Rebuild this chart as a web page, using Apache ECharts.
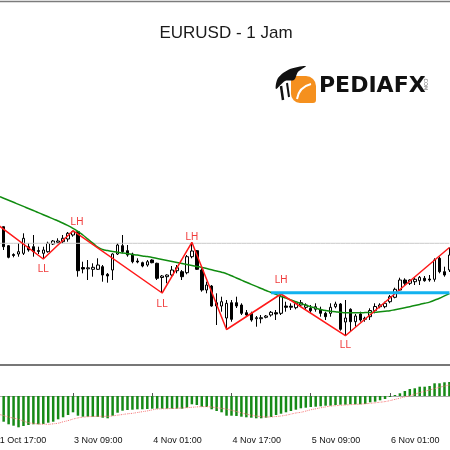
<!DOCTYPE html>
<html>
<head>
<meta charset="utf-8">
<script src="https://cdn.jsdelivr.net/npm/echarts@6/dist/echarts.min.js"></script>
<style>
  html, body { margin: 0; padding: 0; background: #fff; }
  #chart { width: 450px; height: 450px; }
</style>
</head>
<body>
<div id="chart"></div>
<script>
// EURUSD H1 candles (index 0 = 31 Oct 17:00)
const opens = [1.1569,1.1574,1.15733,1.15543,1.15455,1.1546,1.15467,1.15533,1.15533,1.15485,1.15467,1.15483,1.1556,1.15577,1.15583,1.1561,1.1565,1.15683,1.15325,1.15312,1.15307,1.15307,1.15333,1.15257,1.153,1.1546,1.15543,1.15493,1.1546,1.1539,1.15373,1.1535,1.154,1.15367,1.15225,1.15233,1.1525,1.15293,1.15283,1.15273,1.15433,1.15493,1.153,1.151,1.1514,1.1494,1.1494,1.1482,1.14973,1.14973,1.1495,1.14873,1.14867,1.14813,1.14813,1.14827,1.1485,1.14873,1.14867,1.1494,1.14938,1.14923,1.1495,1.14927,1.14917,1.14907,1.14907,1.14867,1.14867,1.14933,1.1496,1.1478,1.14907,1.14783,1.1486,1.14807,1.14833,1.14895,1.14933,1.14933,1.14983,1.15027,1.151,1.152,1.15167,1.15183,1.15193,1.15217,1.1521,1.15207,1.15417,1.15283,1.153];
const closes = [1.1573,1.1571,1.15533,1.15427,1.15445,1.15483,1.15617,1.155,1.15483,1.15495,1.155,1.15567,1.1559,1.1559,1.15617,1.15667,1.15683,1.15293,1.1531,1.15322,1.15327,1.1535,1.1525,1.1524,1.1546,1.1555,1.15483,1.1545,1.15383,1.1538,1.1534,1.15383,1.15373,1.15217,1.1524,1.1525,1.153,1.15323,1.15233,1.15433,1.1549,1.15307,1.151,1.1515,1.1494,1.14973,1.14983,1.14967,1.14807,1.1494,1.14867,1.1485,1.148,1.14823,1.14823,1.1484,1.14877,1.1486,1.15033,1.14927,1.14928,1.14967,1.14973,1.1495,1.14893,1.14933,1.14867,1.14833,1.14927,1.1496,1.14707,1.1482,1.14783,1.1484,1.148,1.14817,1.14895,1.14935,1.1495,1.14967,1.15033,1.15107,1.152,1.15167,1.152,1.15207,1.15227,1.15193,1.152,1.154,1.15283,1.1525,1.1545];
const lows = [1.1568,1.1569,1.155,1.15417,1.15427,1.15433,1.1545,1.15483,1.15433,1.1546,1.1541,1.15473,1.1555,1.15567,1.15567,1.15583,1.15633,1.15233,1.15267,1.152,1.15233,1.153,1.15183,1.15173,1.152,1.1545,1.15467,1.15433,1.15367,1.15367,1.15327,1.15333,1.15367,1.152,1.1507,1.15167,1.15233,1.15267,1.152,1.15257,1.15417,1.153,1.15083,1.15067,1.14933,1.1475,1.14883,1.14705,1.14783,1.1492,1.1485,1.14833,1.14783,1.14733,1.14767,1.14817,1.14833,1.148,1.1485,1.14883,1.149,1.14907,1.14933,1.149,1.14867,1.14883,1.14833,1.148,1.14833,1.14917,1.14693,1.14643,1.14683,1.14733,1.14783,1.14783,1.148,1.14867,1.14917,1.14917,1.14967,1.15017,1.15095,1.1515,1.1515,1.1515,1.1515,1.15183,1.15183,1.15183,1.15267,1.15233,1.1528];
const highs = [1.1574,1.15745,1.15735,1.1555,1.15467,1.15567,1.15667,1.15567,1.1565,1.15533,1.15533,1.15583,1.156,1.15617,1.1565,1.1568,1.15693,1.1569,1.15383,1.154,1.15367,1.15417,1.1535,1.1527,1.15467,1.15567,1.1565,1.1555,1.15473,1.15417,1.15383,1.154,1.15407,1.15373,1.1525,1.15257,1.1534,1.1535,1.153,1.1545,1.15577,1.155,1.15317,1.15183,1.1515,1.15067,1.15033,1.15,1.15,1.15033,1.14967,1.149,1.14883,1.1484,1.1485,1.1485,1.1489,1.149,1.1506,1.14983,1.14967,1.14983,1.15,1.14967,1.1495,1.14967,1.14933,1.14883,1.14967,1.14983,1.1497,1.15,1.14917,1.1486,1.14883,1.14833,1.14917,1.14967,1.14967,1.14983,1.1505,1.15123,1.15223,1.15217,1.15207,1.15227,1.1524,1.1524,1.1525,1.15417,1.15433,1.15333,1.15525];

// green moving average
const maLine = [1.16060,1.16038,1.16018,1.15997,1.15977,1.15956,1.15936,1.15915,1.15895,1.15874,1.15853,1.15832,1.15811,1.15790,1.15768,1.15743,1.15716,1.15687,1.15650,1.15608,1.15568,1.15528,1.15505,1.15495,1.15485,1.15477,1.15470,1.15463,1.15456,1.15449,1.15441,1.15434,1.15426,1.15416,1.15406,1.15396,1.15386,1.15376,1.15366,1.15356,1.15346,1.15336,1.15326,1.15314,1.15302,1.15290,1.15278,1.15263,1.15242,1.15220,1.15199,1.15177,1.15156,1.15136,1.15115,1.15095,1.15075,1.15056,1.15037,1.15019,1.15000,1.14982,1.14964,1.14948,1.14933,1.14919,1.14905,1.14894,1.14888,1.14883,1.14877,1.14873,1.14873,1.14873,1.14873,1.14874,1.14875,1.14878,1.14883,1.14888,1.14893,1.14903,1.14913,1.14923,1.14933,1.14944,1.14956,1.14967,1.14979,1.14998,1.15018,1.15041,1.15064];

// zigzag swing points
const zzIndex = [1, 10, 16, 34, 40, 47, 58, 71, 92];
const zzPrice = [1.15745, 1.1541, 1.15693, 1.1507, 1.15577, 1.14705, 1.1506, 1.14643, 1.15525];
const zzText = ['', 'LL', 'LH', 'LL', 'LH', '', 'LH', 'LL', ''];

const refLevel = 1.15567;      // grey horizontal line
const blueLevel = 1.15073;     // blue horizontal line
const blueFrom = 56;

// MACD (in points, 1 = 0.00001)
const macdHist = [-22,-24,-25.7,-28.3,-29.7,-31.3,-30,-29,-28.3,-28.3,-28,-26.7,-25.7,-23.3,-21.3,-19,-16.3,-19.7,-20.7,-20.7,-20.7,-21,-21.7,-22.3,-19.7,-16.7,-14.7,-14,-13.7,-13.3,-13.3,-13,-12.7,-12.7,-12.7,-12.7,-12.7,-12.7,-12.7,-11.7,-8.3,-9,-10.7,-11,-13.3,-15,-16.3,-19.7,-19.7,-20,-20.7,-21.3,-21.7,-22.3,-22.3,-21.7,-21,-19,-17.7,-16.3,-15,-13.7,-12.3,-11.7,-11,-10.7,-10.3,-9.7,-9.7,-9,-8.7,-8.7,-8.3,-8.3,-8.3,-8,-6.3,-5.7,-4.3,-3,-1,1,2.7,5,7,7.7,9.3,9.3,10,12.7,12.7,13.7,14];
const macdSignal = [-17,-18.3,-19.6,-21,-22.1,-23.3,-25,-26.7,-27.4,-28,-28.2,-28.3,-27.8,-27.2,-25.8,-24.6,-23.1,-21.9,-21.2,-20.7,-20.5,-20.3,-20.3,-20.3,-19.9,-19.2,-18.5,-17.8,-17.3,-16.5,-15.7,-14.9,-13.9,-13,-12.8,-12.7,-12.5,-12.3,-12,-11.7,-11.3,-10.9,-10.7,-10.7,-11.1,-11.7,-12.4,-13.1,-14.3,-15.5,-16.9,-18.1,-19.2,-20.1,-20.6,-21,-20.9,-20.5,-20,-19.2,-18.1,-17,-16.3,-15.1,-13.8,-12.8,-11.8,-10.9,-10.1,-9.7,-9.3,-9,-8.7,-8.4,-8.1,-7.8,-7.3,-6.8,-6.2,-5.6,-4.6,-3.4,-2.2,-0.8,0.2,1.8,3.3,4.7,6,7.4,8.7,9.9,11];

// hourly bar times, weekend skipped
const pad = n => (n < 10 ? '0' : '') + n;
const times = [];
for (let h = 17; h <= 23; h++) times.push('31 Oct ' + pad(h) + ':00');
for (let i = 0; times.length < opens.length; i++) {
  times.push((3 + Math.floor(i / 24)) + ' Nov ' + pad(i % 24) + ':00');
}

const chart = echarts.init(document.getElementById('chart'));

const candles = opens.map((o, i) => [o, closes[i], lows[i], highs[i]]);

// label gaps for zigzag texts
const zzGap = { 10: 5, 16: 3, 34: 6, 40: 0, 58: 8, 71: 4 };
const zzData = times.map(() => null);
zzIndex.forEach((idx, k) => {
  const item = { value: zzPrice[k] };
  if (zzText[k]) {
    item.label = {
      show: true,
      formatter: zzText[k],
      position: zzText[k] === 'LH' ? 'top' : 'bottom',
      distance: zzGap[idx],
      offset: idx === 16 ? [4, 0] : [0, 0],
      color: '#f03a3a',
      fontSize: 10,
      fontFamily: 'Liberation Sans'
    };
  }
  zzData[idx] = item;
});

const blueData = times.map((t, i) => (i >= blueFrom ? blueLevel : null));
const refData = times.map(() => refLevel);

const barStep = 4.953;
const gridLeft = -6.25 - barStep / 2;
const gridWidth = barStep * opens.length;

const option = {
  animation: false,
  backgroundColor: '#fff',
  grid: [
    { left: gridLeft, top: 2, width: gridWidth, height: 362, outerBoundsMode: 'none', containLabel: false },
    { left: gridLeft, top: 366, width: gridWidth, height: 67, outerBoundsMode: 'none', containLabel: false }
  ],
  xAxis: [
    {
      type: 'category', gridIndex: 0, data: times, boundaryGap: true,
      axisLine: { show: false }, axisTick: { show: false }, axisLabel: { show: false }
    },
    {
      type: 'category', gridIndex: 1, data: times, boundaryGap: true,
      axisLine: { show: true, lineStyle: { color: '#a8a8a8', width: 1 } },
      axisTick: { show: true, interval: 15, alignWithLabel: true, inside: true, length: 3, lineStyle: { color: '#555' } },
      axisLabel: {
        interval: 15, align: 'left', margin: 3, fontSize: 9,
        fontFamily: 'Liberation Sans', color: '#111', padding: [0, 0, 0, 1]
      }
    }
  ],
  yAxis: [
    { type: 'value', gridIndex: 0, min: 1.1436, max: 1.1798, show: false, splitLine: { show: false } },
    { type: 'value', gridIndex: 1, min: -37, max: 30, show: false, splitLine: { show: false } }
  ],
  series: [
    {
      name: 'Ref', type: 'line', xAxisIndex: 0, yAxisIndex: 0, data: refData,
      showSymbol: false, silent: true, lineStyle: { color: '#cacaca', width: 1 }
    },
    {
      name: 'EURUSD', type: 'candlestick', xAxisIndex: 0, yAxisIndex: 0,
      data: candles, barWidth: 3,
      itemStyle: {
        color: '#fff', color0: '#000',
        borderColor: '#000', borderColor0: '#000', borderColorDoji: '#000', borderWidth: 1
      }
    },
    {
      name: 'MA', type: 'line', xAxisIndex: 0, yAxisIndex: 0, data: maLine,
      showSymbol: false, smooth: true, lineStyle: { color: '#108c10', width: 1.5 }
    },
    {
      name: 'ZigZag', type: 'line', xAxisIndex: 0, yAxisIndex: 0, data: zzData,
      connectNulls: true, showSymbol: true, showAllSymbol: true,
      symbol: 'circle', symbolSize: 1, itemStyle: { color: 'transparent' },
      lineStyle: { color: '#ff1a1a', width: 1.5 }
    },
    {
      name: 'Level', type: 'line', xAxisIndex: 0, yAxisIndex: 0, data: blueData,
      showSymbol: false, lineStyle: { color: '#12b2ef', width: 3 }
    },
    {
      name: 'MACD', type: 'bar', xAxisIndex: 1, yAxisIndex: 1, data: macdHist,
      barWidth: 2.5, itemStyle: { color: '#168a16' }
    },
    {
      name: 'Signal', type: 'line', xAxisIndex: 1, yAxisIndex: 1, data: macdSignal,
      showSymbol: false, smooth: true,
      lineStyle: { color: '#f57878', width: 1, type: 'dotted' }
    }
  ],
  graphic: [
    { type: 'line', shape: { x1: 0, y1: 1.5, x2: 450, y2: 1.5 }, style: { stroke: '#7c7c7c', lineWidth: 1.5 } },
    { type: 'line', shape: { x1: 0, y1: 365, x2: 450, y2: 365 }, style: { stroke: '#777', lineWidth: 2 } },
    {
      type: 'text', x: 226, y: 33,
      style: { text: 'EURUSD - 1 Jam', fontSize: 17, fontFamily: 'Liberation Sans', fill: '#1a1a1a', align: 'center', verticalAlign: 'middle' }
    },
    // logo
    { type: 'rect', shape: { x: 291, y: 76, width: 25, height: 27, r: [3, 10, 3, 9] }, style: { fill: '#f5901e' } },
    {
      type: 'polygon', shape: { points: [[276, 89], [278, 78], [290, 69], [306, 66], [298, 72], [294, 80], [285, 81]], smooth: 0.3 },
      style: { fill: '#111' }
    },
    { type: 'line', shape: { x1: 281, y1: 86, x2: 283, y2: 100 }, style: { stroke: '#111', lineWidth: 2.5 } },
    { type: 'line', shape: { x1: 287, y1: 83, x2: 289, y2: 97 }, style: { stroke: '#111', lineWidth: 2 } },
    {
      type: 'bezierCurve', shape: { x1: 297, y1: 99, cpx1: 299, cpy1: 87, x2: 311, y2: 84 },
      style: { fill: null, stroke: '#fff', lineWidth: 2 }
    },
    {
      type: 'text', x: 319, y: 75,
      style: { text: 'PEDIAFX', fontSize: 22, fontWeight: 'bold', fontFamily: 'DejaVu Sans', fill: '#111' }
    },
    {
      type: 'text', x: 428, y: 77, rotation: -Math.PI / 2,
      style: { text: '.COM', fontSize: 5, fontFamily: 'DejaVu Sans', fill: '#666' }
    }
  ]
};

chart.setOption(option);
</script>
</body>
</html>
